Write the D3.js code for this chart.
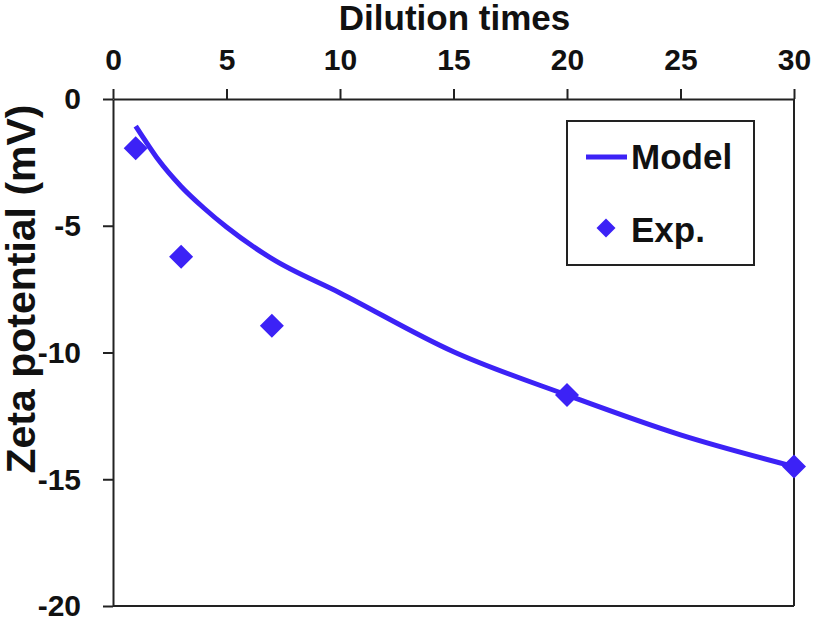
<!DOCTYPE html>
<html>
<head>
<meta charset="utf-8">
<script src="https://cdn.jsdelivr.net/npm/d3@7"></script>
<style>
  body { margin: 0; background: #fff; }
  svg { font-family: "Liberation Sans", Arial, sans-serif; font-weight: bold; }
</style>
</head>
<body>
<svg width="813" height="619"></svg>
<script>
// model curve
const modelX = [1, 1.5, 2, 3, 4, 5, 7, 10, 15, 20, 25, 30]
const modelY = [-1.07, -1.75, -2.4, -3.45, -4.3, -5.05, -6.3, -7.65, -9.97, -11.68, -13.25, -14.5]
// experimental points
const expX = [1, 3, 7, 20, 30]
const expY = [-1.94, -6.22, -8.94, -11.68, -14.5]

const xTicks = [0, 5, 10, 15, 20, 25, 30]
const yTicks = [0, -5, -10, -15, -20]

const blue = '#3c22f6'
const svg = d3.select('svg')
const margin = { left: 113, right: 19, top: 99, bottom: 13 }
const w = 813 - margin.left - margin.right
const h = 619 - margin.top - margin.bottom

const x = d3.scaleLinear().domain([0, 30]).range([0, w])
const y = d3.scaleLinear().domain([0, -20]).range([0, h])

const g = svg.append('g').attr('transform', `translate(${margin.left},${margin.top})`)

// frame: right + bottom lines, top and left axes
g.append('line').attr('x1', w).attr('x2', w).attr('y1', 0).attr('y2', h)
  .attr('stroke', '#222').attr('stroke-width', 2)
g.append('line').attr('x1', 0).attr('x2', w).attr('y1', h).attr('y2', h)
  .attr('stroke', '#222').attr('stroke-width', 2)

const xAxis = g.append('g')
  .call(d3.axisTop(x).tickValues(xTicks).tickFormat(d => String(d))
    .tickSize(10).tickPadding(19).tickSizeOuter(0))
const yAxis = g.append('g')
  .call(d3.axisLeft(y).tickValues(yTicks).tickFormat(d => String(d))
    .tickSize(10).tickPadding(22).tickSizeOuter(0))

for (const ax of [xAxis, yAxis]) {
  ax.select('.domain').attr('stroke', '#222').attr('stroke-width', 2)
  ax.selectAll('.tick line').attr('stroke', '#222').attr('stroke-width', 2)
  ax.selectAll('.tick text')
    .attr('fill', '#111')
    .style('font-size', '30px')
    .style('font-weight', 'bold')
    .style('font-family', '"Liberation Sans", Arial, sans-serif')
}
yAxis.selectAll('.tick text').attr('dy', '0.33em')

// titles
svg.append('text')
  .attr('x', margin.left + w / 2 + 1).attr('y', 30)
  .attr('text-anchor', 'middle')
  .style('font-size', '35px')
  .attr('fill', '#111')
  .text('Dilution times')

svg.append('text')
  .attr('transform', `translate(35, 289) rotate(-90)`)
  .attr('text-anchor', 'middle')
  .style('font-size', '41px')
  .attr('fill', '#111')
  .text('Zeta potential (mV)')

// model line
const line = d3.line()
  .x((d, i) => x(modelX[i]))
  .y(d => y(d))
  .curve(d3.curveMonotoneX)

g.append('path')
  .datum(modelY)
  .attr('d', line)
  .attr('fill', 'none')
  .attr('stroke', blue)
  .attr('stroke-width', 5)

// experimental diamonds
const diamond = (s) => `M0,${-s}L${s},0L0,${s}L${-s},0Z`
g.selectAll('.exp')
  .data(expY)
  .join('path')
  .attr('class', 'exp')
  .attr('transform', (d, i) => `translate(${x(expX[i])},${y(d)})`)
  .attr('d', diamond(12))
  .attr('fill', blue)

// legend
const lg = svg.append('g').attr('transform', 'translate(567,121)')
lg.append('rect')
  .attr('width', 187).attr('height', 144)
  .attr('fill', '#fff').attr('stroke', '#222').attr('stroke-width', 2)
lg.append('line')
  .attr('x1', 19).attr('x2', 60).attr('y1', 36).attr('y2', 36)
  .attr('stroke', blue).attr('stroke-width', 5)
lg.append('text').attr('x', 64).attr('y', 48)
  .style('font-size', '35px').attr('fill', '#111').text('Model')
lg.append('path')
  .attr('transform', 'translate(39,107)')
  .attr('d', diamond(9.5))
  .attr('fill', blue)
lg.append('text').attr('x', 64).attr('y', 121)
  .style('font-size', '35px').attr('fill', '#111').text('Exp.')
</script>
</body>
</html>
